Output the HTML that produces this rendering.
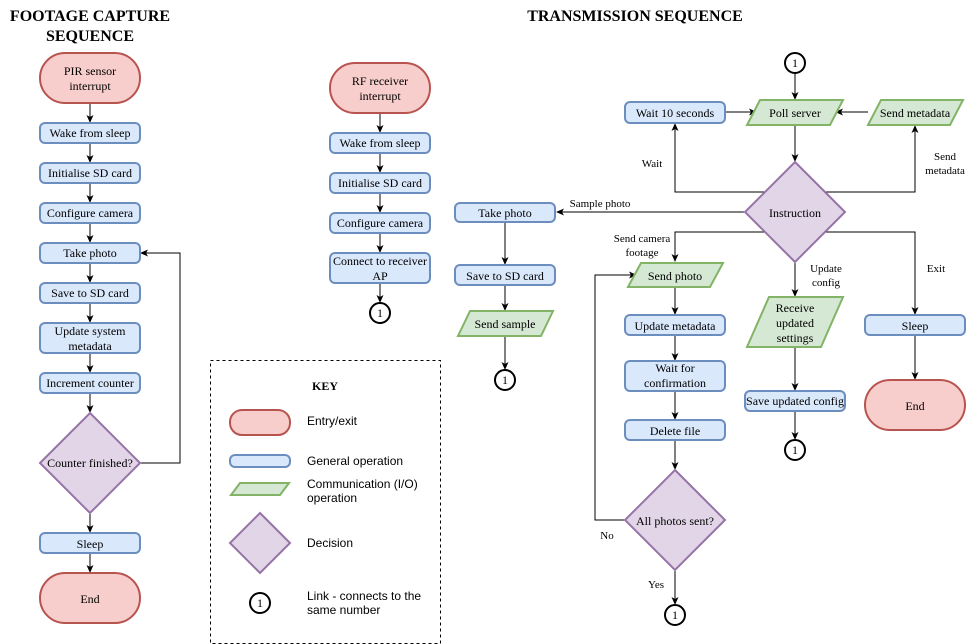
<!DOCTYPE html>
<html><head><meta charset="utf-8"><style>
html,body{margin:0;padding:0;background:#fff}
svg{display:block}
text{font-family:"Liberation Serif",serif;font-size:12px;fill:#000}
.s{font-family:"Liberation Sans",sans-serif}
.l{font-size:11px}
.r{fill:#f8cecc;stroke:#b85450;stroke-width:2}
.b{fill:#dae8fc;stroke:#6c8ebf;stroke-width:2}
.g{fill:#d5e8d4;stroke:#82b366;stroke-width:2}
.p{fill:#e1d5e7;stroke:#9673a6;stroke-width:2}
.c{fill:#fff;stroke:#000;stroke-width:2}
.e{fill:none;stroke:#000;stroke-width:1}
</style></head><body>
<svg width="966" height="644" viewBox="0 0 966 644">
<defs><marker id="a" markerWidth="8" markerHeight="8" refX="7" refY="4" orient="auto" markerUnits="userSpaceOnUse"><path d="M0,0.5 L8,4 L0,7.5 L2,4 Z" fill="#000"/></marker></defs>
<g text-anchor="middle">
<text x="90" y="21" style="font-size:16px;font-weight:bold">FOOTAGE CAPTURE</text>
<text x="90" y="41" style="font-size:16px;font-weight:bold">SEQUENCE</text>
<text x="635" y="21" style="font-size:16px;font-weight:bold">TRANSMISSION SEQUENCE</text>

<!-- left column -->
<g class="e" marker-end="url(#a)">
<path d="M90,103V122"/><path d="M90,143V162"/><path d="M90,183V202"/><path d="M90,223V242"/><path d="M90,263V282"/><path d="M90,303V322"/><path d="M90,353V372"/><path d="M90,393V412"/><path d="M90,513V532"/><path d="M90,553V572"/>
<path d="M140,463H180V253H141"/>
</g>
<rect class="r" x="40" y="53" width="100" height="50" rx="25"/>
<text x="90" y="75">PIR sensor</text><text x="90" y="90">interrupt</text>
<rect class="b" x="40" y="123" width="100" height="20" rx="5"/><text x="90" y="137">Wake from sleep</text>
<rect class="b" x="40" y="163" width="100" height="20" rx="5"/><text x="90" y="177">Initialise SD card</text>
<rect class="b" x="40" y="203" width="100" height="20" rx="5"/><text x="90" y="217">Configure camera</text>
<rect class="b" x="40" y="243" width="100" height="20" rx="5"/><text x="90" y="257">Take photo</text>
<rect class="b" x="40" y="283" width="100" height="20" rx="5"/><text x="90" y="297">Save to SD card</text>
<rect class="b" x="40" y="323" width="100" height="30" rx="5"/><text x="90" y="335">Update system</text><text x="90" y="350">metadata</text>
<rect class="b" x="40" y="373" width="100" height="20" rx="5"/><text x="90" y="387">Increment counter</text>
<path class="p" d="M90,413L140,463L90,513L40,463Z"/><text x="90" y="467">Counter finished?</text>
<rect class="b" x="40" y="533" width="100" height="20" rx="5"/><text x="90" y="548">Sleep</text>
<rect class="r" x="40" y="573" width="100" height="50" rx="25"/><text x="90" y="603">End</text>

<!-- middle column -->
<g class="e" marker-end="url(#a)">
<path d="M380,113V132"/><path d="M380,153V172"/><path d="M380,193V212"/><path d="M380,233V252"/><path d="M380,283V302"/>
</g>
<rect class="r" x="330" y="63" width="100" height="50" rx="25"/>
<text x="380" y="85">RF receiver</text><text x="380" y="100">interrupt</text>
<rect class="b" x="330" y="133" width="100" height="20" rx="5"/><text x="380" y="147">Wake from sleep</text>
<rect class="b" x="330" y="173" width="100" height="20" rx="5"/><text x="380" y="187">Initialise SD card</text>
<rect class="b" x="330" y="213" width="100" height="20" rx="5"/><text x="380" y="227">Configure camera</text>
<rect class="b" x="330" y="253" width="100" height="30" rx="5"/><text x="380" y="265">Connect to receiver</text><text x="380" y="280">AP</text>
<circle class="c" cx="380" cy="313" r="10"/><text x="380" y="317">1</text>

<!-- key -->
<rect x="210.5" y="360.5" width="230" height="283" fill="none" stroke="#000" stroke-dasharray="3,3"/>
<text x="325" y="390" style="font-weight:bold;font-size:12px">KEY</text>
<rect class="r" x="230" y="410" width="60" height="25" rx="12"/>
<rect class="b" x="230" y="455" width="60" height="12" rx="5"/>
<path class="g" d="M240,483H289L280,495H231Z"/>
<path class="p" d="M260,513L290,543L260,573L230,543Z"/>
<circle class="c" cx="260" cy="603" r="10"/><text x="260" y="607">1</text>
</g>
<g class="s" style="font-size:12px">
<text x="307" y="425" class="s">Entry/exit</text>
<text x="307" y="465" class="s">General operation</text>
<text x="307" y="488" class="s">Communication (I/O)</text><text x="307" y="502" class="s">operation</text>
<text x="307" y="547" class="s">Decision</text>
<text x="307" y="600" class="s">Link - connects to the</text><text x="307" y="614" class="s">same number</text>
</g>

<!-- right -->
<g text-anchor="middle">
<g class="e" marker-end="url(#a)">
<path d="M795,73V99"/>
<path d="M725,112H756"/>
<path d="M868,112H836"/>
<path d="M795,125V161"/>
<path d="M765,192H675V124"/>
<path d="M825,192H915V126"/>
<path d="M745,212H557"/>
<path d="M765,232H675V261"/>
<path d="M795,262V296"/>
<path d="M825,232H915V314"/>
<path d="M915,335V379"/>
<path d="M505,222V264"/>
<path d="M505,285V310"/>
<path d="M505,336V369"/>
<path d="M675,287V314"/>
<path d="M675,335V360"/>
<path d="M675,391V419"/>
<path d="M675,440V469"/>
<path d="M675,570V604"/>
<path d="M625,520H595V275H636"/>
<path d="M795,347V390"/>
<path d="M795,411V439"/>
</g>
<circle class="c" cx="795" cy="63" r="10"/><text x="795" y="67">1</text>
<rect class="b" x="625" y="102" width="100" height="21" rx="5"/><text x="675" y="117">Wait 10 seconds</text>
<path class="g" d="M760,100H843L830,125H747Z"/><text x="795" y="117">Poll server</text>
<path class="g" d="M881,100H963L950,125H868Z"/><text x="915" y="117">Send metadata</text>
<path class="p" d="M795,162L845,212L795,262L745,212Z"/><text x="795" y="217">Instruction</text>
<text x="652" y="167" class="l">Wait</text>
<text x="945" y="160" class="l">Send</text><text x="945" y="174" class="l">metadata</text>
<text x="600" y="207" class="l">Sample photo</text>
<text x="642" y="242" class="l">Send camera</text><text x="642" y="256" class="l">footage</text>
<text x="826" y="272" class="l">Update</text><text x="826" y="286" class="l">config</text>
<text x="936" y="272" class="l">Exit</text>

<rect class="b" x="455" y="203" width="100" height="19" rx="5"/><text x="505" y="217">Take photo</text>
<rect class="b" x="455" y="265" width="100" height="20" rx="5"/><text x="505" y="280">Save to SD card</text>
<path class="g" d="M470,311H553L541,336H458Z"/><text x="505" y="328">Send sample</text>
<circle class="c" cx="505" cy="380" r="10"/><text x="505" y="384">1</text>

<path class="g" d="M641,263H723L710,287H628Z"/><text x="675" y="280">Send photo</text>
<rect class="b" x="625" y="315" width="100" height="20" rx="5"/><text x="675" y="330">Update metadata</text>
<rect class="b" x="625" y="361" width="100" height="30" rx="5"/><text x="675" y="372">Wait for</text><text x="675" y="387">confirmation</text>
<rect class="b" x="625" y="420" width="100" height="20" rx="5"/><text x="675" y="435">Delete file</text>
<path class="p" d="M675,470L725,520L675,570L625,520Z"/><text x="675" y="525">All photos sent?</text>
<text x="607" y="539" class="l">No</text>
<text x="656" y="588" class="l">Yes</text>
<circle class="c" cx="675" cy="615" r="10"/><text x="675" y="619">1</text>

<path class="g" d="M769,297H843L821,347H747Z"/>
<text x="795" y="312">Receive</text><text x="795" y="327">updated</text><text x="795" y="342">settings</text>
<rect class="b" x="745" y="391" width="100" height="20" rx="5"/><text x="795" y="405">Save updated config</text>
<circle class="c" cx="795" cy="450" r="10"/><text x="795" y="454">1</text>

<rect class="b" x="865" y="315" width="100" height="20" rx="5"/><text x="915" y="330">Sleep</text>
<rect class="r" x="865" y="380" width="100" height="50" rx="25"/><text x="915" y="410">End</text>
</g>
</svg>
</body></html>
